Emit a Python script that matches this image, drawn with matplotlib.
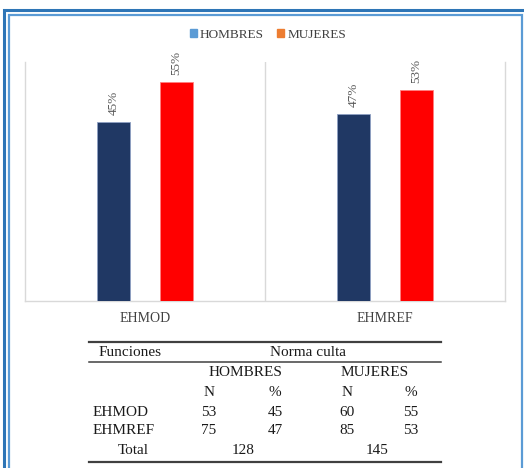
import matplotlib
matplotlib.use("Agg")
import matplotlib.pyplot as plt
from matplotlib.patches import Patch, Rectangle
from matplotlib.lines import Line2D
import numpy as np

# ---- data ----
categories = ["EHMOD", "EHMREF"]
hombres_pct = [0.45, 0.47]
mujeres_pct = [0.55, 0.53]
series_names = ["HOMBRES", "MUJERES"]

table_header = ["Funciones", "Norma culta"]
table_groups = ["HOMBRES", "MUJERES"]
table_subheads = ["N", "%", "N", "%"]
table_rows = ["EHMOD", "EHMREF"]
table_values = [[53, 45, 60, 55], [75, 47, 85, 53]]
table_total_label = "Total"
table_totals = [128, 145]

W, H = 524, 468
fig = plt.figure(figsize=(W / 100, H / 100), dpi=100)
fig.patch.set_facecolor("white")

def fx(x):
    return x / W

def fy(y):
    return 1 - y / H

serif = ["Liberation Serif", "DejaVu Serif"]

# ---- chart axes ----
ax = fig.add_axes([fx(25), fy(301), fx(505) - fx(25), fy(62) - fy(301)])
x = np.arange(len(categories))
bw = 0.1375
off = 0.13
dark = "#203864"
red = "#FF0000"
b1 = ax.bar(x - off, hombres_pct, bw, color=dark, edgecolor="#8EA0C4", linewidth=0.6, zorder=3)
b2 = ax.bar(x + off, mujeres_pct, bw, color=red, edgecolor="#FF8080", linewidth=0.6, zorder=3)
ax.set_xlim(-0.5, len(categories) - 0.5)
ax.set_ylim(0, 0.6)
ax.set_yticks([])
ax.set_xticks(x)
ax.set_xticklabels(categories, family=serif, fontsize=10, color="#404040")
ax.tick_params(axis="x", length=0, pad=8)
ax.spines["top"].set_visible(False)
for s in ["left", "right", "bottom"]:
    ax.spines[s].set_color("#D9D9D9")
    ax.spines[s].set_linewidth(1.0)
for i in range(len(categories) - 1):
    ax.axvline(i + 0.5, color="#D9D9D9", lw=1.0, zorder=1)

for bars, vals in ((b1, hombres_pct), (b2, mujeres_pct)):
    for r, v in zip(bars, vals):
        ax.annotate(f"{round(v * 100)}%", (r.get_x() + r.get_width() / 2, v),
                    xytext=(0, 5), textcoords="offset points", rotation=90,
                    ha="center", va="bottom", family=serif, fontsize=9.5, color="#595959")

# legend
handles = [Patch(color="#5B9BD5"), Patch(color="#ED7D31")]
fig.legend(handles, series_names, loc="center", bbox_to_anchor=(fx(268), fy(35)),
           ncol=2, frameon=False, prop={"family": serif, "size": 9.5},
           handlelength=0.55, handleheight=0.55, handletextpad=0.2, columnspacing=1.0,
           labelcolor="#404040")

# ---- table ----
fs = 11
def t(xp, yp, s, ha="center"):
    fig.text(fx(xp), fy(yp), s, ha=ha, va="center", family=serif, fontsize=fs, color="#1a1a1a")

def hline(yp, lw):
    fig.add_artist(Line2D([fx(89), fx(441)], [fy(yp), fy(yp)], color="#404040", lw=lw))

hline(341.5, 1.6)
hline(361.5, 1.1)
hline(461.5, 1.6)

t(99, 352, table_header[0], ha="left")
t(308, 352, table_header[1])
group_x = [245, 375]
for gx, g in zip(group_x, table_groups):
    t(gx, 372, g)
col_x = [209, 275, 347, 411]
for cx, s in zip(col_x, table_subheads):
    t(cx, 392, s)
row_y = [412, 431]
for ry, name, vals in zip(row_y, table_rows, table_values):
    t(93, ry, name, ha="left")
    for cx, v in zip(col_x, vals):
        t(cx, ry, str(v))
t(133, 450, table_total_label)
for tx, v in zip([243, 377], table_totals):
    t(tx, 450, str(v))

# ---- border ----
fig.add_artist(Rectangle((fx(4.3), fy(480)), fx(540) - fx(4.3), fy(10.3) - fy(480),
                         fill=False, edgecolor="#2E75B6", lw=2.2, transform=fig.transFigure))
fig.add_artist(Rectangle((fx(8.5), fy(480)), fx(521.8) - fx(8.5), fy(15) - fy(480),
                         fill=False, edgecolor="#5B9BD5", lw=1.6, transform=fig.transFigure))

fig.savefig("out.png", dpi=100)
